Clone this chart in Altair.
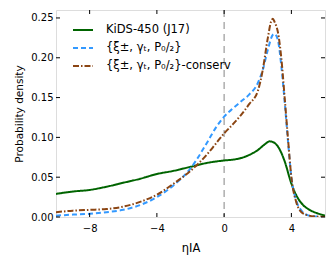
import altair as alt
import pandas as pd

names = ["KiDS-450 (J17)", "{ξ±, γₜ, P₀/₂}", "{ξ±, γₜ, P₀/₂}-conserv"]
colors = ["#006400", "#3399ff", "#8b4513"]
dashes = [[1, 0], [5, 3], [6, 2, 1.5, 2]]

green_x = [-10, -9, -8, -7, -6, -5, -4, -3, -2, -1, 0, 0.5, 1, 1.5, 2, 2.4, 2.7, 3.0, 3.3, 3.6, 4, 4.3, 4.7, 5, 5.5, 6]
green_y = [0.029, 0.032, 0.034, 0.038, 0.043, 0.048, 0.054, 0.058, 0.063, 0.068, 0.071, 0.072, 0.074, 0.078, 0.084, 0.091, 0.095, 0.093, 0.085, 0.070, 0.042, 0.027, 0.015, 0.010, 0.005, 0.002]

blue_x = [-10, -9, -8, -7, -6, -5, -4, -3, -2, -1, -0.5, 0, 0.5, 1, 1.5, 2, 2.3, 2.6, 2.9, 3.0, 3.2, 3.4, 3.6, 3.8, 4, 4.3, 4.6, 5, 5.5, 6]
blue_y = [0.0017, 0.003, 0.004, 0.006, 0.009, 0.015, 0.025, 0.040, 0.061, 0.094, 0.112, 0.126, 0.136, 0.145, 0.154, 0.168, 0.185, 0.210, 0.229, 0.230, 0.222, 0.190, 0.145, 0.095, 0.050, 0.020, 0.008, 0.002, 0.0005, 0.0]

brown_x = [-10, -9, -8, -7, -6, -5, -4, -3, -2, -1, -0.5, 0, 0.5, 1, 1.5, 2, 2.3, 2.6, 2.8, 2.9, 3.0, 3.2, 3.4, 3.6, 3.8, 4, 4.3, 4.6, 5, 5.5, 6]
brown_y = [0.006, 0.008, 0.009, 0.010, 0.013, 0.019, 0.028, 0.042, 0.058, 0.079, 0.092, 0.105, 0.116, 0.128, 0.142, 0.158, 0.185, 0.225, 0.246, 0.249, 0.245, 0.232, 0.200, 0.150, 0.098, 0.050, 0.018, 0.006, 0.002, 0.0005, 0.0]

x_ticks = [-8, -4, 0, 4]
y_ticks = [0.0, 0.05, 0.10, 0.15, 0.20, 0.25]

W, H = 269, 207
FONT = "DejaVu Sans"

rows = []
for n, xs, ys in zip(names, [green_x, blue_x, brown_x], [green_y, blue_y, brown_y]):
    for a, b in zip(xs, ys):
        rows.append({"series": n, "x": a, "y": b})
df = pd.DataFrame(rows)

xscale = alt.Scale(domain=[-10, 6], nice=False, zero=False)
yscale = alt.Scale(domain=[0, 0.26], nice=False)

lines = alt.Chart(df).mark_line(strokeWidth=2, interpolate="monotone", clip=True).encode(
    x=alt.X("x:Q", scale=xscale,
            axis=alt.Axis(values=x_ticks, title="ηIA", grid=False, domain=False, tickSize=0,
                          labelPadding=6, labelFontSize=10, titleFontSize=11.5, titleFontWeight="normal",
                          titlePadding=9, labelFont=FONT, titleFont=FONT, labelColor="black", titleColor="black")),
    y=alt.Y("y:Q", scale=yscale,
            axis=alt.Axis(values=y_ticks, format=".2f", title="Probability density", grid=False, domain=False,
                          tickSize=0, labelPadding=3, labelFontSize=10, titleFontSize=10.5,
                          titleFontWeight="normal", titlePadding=6, labelFont=FONT, titleFont=FONT,
                          labelColor="black", titleColor="black")),
    color=alt.Color("series:N", scale=alt.Scale(domain=names, range=colors),
                    legend=alt.Legend(title=None, orient="none", legendX=16, legendY=9,
                                      symbolType="stroke", symbolSize=400, symbolStrokeWidth=2,
                                      labelFont=FONT, labelFontSize=11.5, labelColor="black",
                                      rowPadding=1, labelOffset=12)),
    strokeDash=alt.StrokeDash("series:N", scale=alt.Scale(domain=names, range=dashes), legend=None),
    order=alt.Order("x:Q"),
)

vline = alt.Chart(pd.DataFrame({"x": [0]})).mark_rule(color="#999999", strokeWidth=1.2, strokeDash=[7, 5]).encode(
    x=alt.X("x:Q", scale=xscale)
)

xt = pd.DataFrame({"x": x_ticks})
yt = pd.DataFrame({"y": y_ticks})
tick_style = dict(color="black", strokeWidth=1)
xbot = alt.Chart(xt).mark_rule(**tick_style).encode(x=alt.X("x:Q", scale=xscale), y=alt.value(H), y2=alt.value(H - 4))
xtop = alt.Chart(xt).mark_rule(**tick_style).encode(x=alt.X("x:Q", scale=xscale), y=alt.value(0), y2=alt.value(4))
yl = alt.Chart(yt).mark_rule(**tick_style).encode(y=alt.Y("y:Q", scale=yscale), x=alt.value(0), x2=alt.value(4))
yr = alt.Chart(yt).mark_rule(**tick_style).encode(y=alt.Y("y:Q", scale=yscale), x=alt.value(W), x2=alt.value(W - 4))

chart = alt.layer(vline, lines, xbot, xtop, yl, yr).properties(
    width=W, height=H,
    autosize=alt.AutoSizeParams(type="none"),
    padding={"left": 48, "top": 2, "right": 2, "bottom": 40},
).configure_view(stroke="black", strokeWidth=1.2).configure(background="white")

chart.save("out.html", embed_options={"renderer": "svg", "actions": False})
